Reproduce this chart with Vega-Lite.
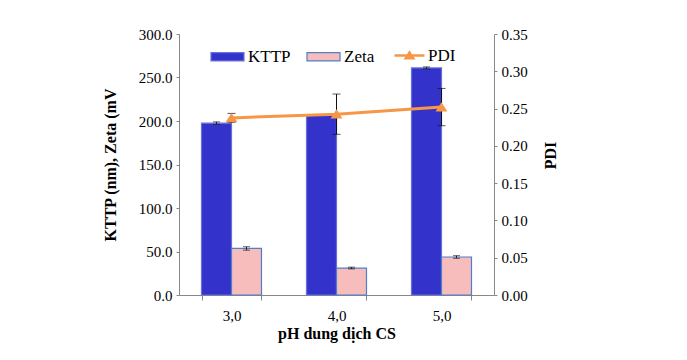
{
  "$schema": "https://vega.github.io/schema/vega-lite/v6.json",
  "width": 315,
  "height": 261,
  "autosize": {"type": "none"},
  "padding": {"left": 179, "top": 34, "right": 193, "bottom": 65},
  "background": "white",
  "config": {
    "view": {"stroke": null},
    "font": "Liberation Serif",
    "axis": {"grid": false, "domainColor": "#888888", "tickColor": "#888888", "labelFont": "Liberation Serif", "titleFont": "Liberation Serif", "labelColor": "black", "titleColor": "black", "labelFontSize": 15, "titleFontSize": 16, "titleFontWeight": "bold", "labelFontWeight": "normal"},
    "legend": {"labelFont": "Liberation Serif", "labelFontSize": 17, "labelColor": "black"}
  },
  "datasets": {
    "bars": [
      {"pH": "3,0", "series": "KTTP", "value": 197.5, "err": 1.5},
      {"pH": "3,0", "series": "Zeta", "value": 53.5, "err": 2.0},
      {"pH": "4,0", "series": "KTTP", "value": 207.0, "err": 0},
      {"pH": "4,0", "series": "Zeta", "value": 31.0, "err": 1.0},
      {"pH": "5,0", "series": "KTTP", "value": 261.0, "err": 1.2},
      {"pH": "5,0", "series": "Zeta", "value": 43.7, "err": 1.5}
    ],
    "pdi": [
      {"pH": "3,0", "series": "PDI", "pdi": 0.2375, "err": 0.006},
      {"pH": "4,0", "series": "PDI", "pdi": 0.2425, "err": 0.027},
      {"pH": "5,0", "series": "PDI", "pdi": 0.252, "err": 0.025}
    ]
  },
  "encoding": {
    "x": {
      "field": "pH", "type": "nominal", "sort": ["3,0", "4,0", "5,0"],
      "scale": {"paddingInner": 0.4286, "paddingOuter": 0.2143},
      "axis": {"title": "pH dung dịch CS", "labelAngle": 0, "tickBand": "extent", "tickSize": 5, "labelPadding": 8, "titlePadding": 2, "labelFont": "Liberation Serif", "titleFont": "Liberation Serif", "labelFontSize": 15}
    }
  },
  "layer": [
    {
      "data": {"name": "bars"},
      "transform": [{"calculate": "datum.value - datum.err", "as": "lo"}, {"calculate": "datum.value + datum.err", "as": "hi"}],
      "layer": [
        {
          "mark": {"type": "bar", "strokeWidth": 1.2},
          "encoding": {
            "xOffset": {"field": "series", "type": "nominal", "scale": {"paddingInner": 0, "paddingOuter": 0}},
            "y": {"field": "value", "type": "quantitative", "scale": {"domain": [0, 300]},
              "axis": {"title": "KTTP (nm), Zeta (mV", "values": [0, 50, 100, 150, 200, 250, 300], "format": ".1f", "tickSize": 3, "labelPadding": 4, "titlePadding": 20, "labelFont": "Liberation Serif", "titleFont": "Liberation Serif", "labelFontSize": 15, "labelOverlap": false}},
            "fill": {"field": "series", "type": "nominal", "scale": {"domain": ["KTTP", "Zeta"], "range": ["#3333cc", "#f7bcbc"]},
              "legend": {"title": null, "orient": "none", "direction": "horizontal", "legendX": 31, "legendY": 5, "symbolType": "M-1,-0.25H1V0.25H-1Z", "symbolSize": 1089, "symbolStrokeWidth": 1.2, "labelOffset": 3, "columnPadding": 13, "symbolOpacity": 1, "labelFont": "Liberation Serif", "labelFontSize": 17}},
            "stroke": {"field": "series", "type": "nominal", "scale": {"domain": ["KTTP", "Zeta"], "range": ["#6870d8", "#4f7fc8"]}, "legend": {"title": null, "orient": "none", "direction": "horizontal", "legendX": 31, "legendY": 5, "symbolType": "M-1,-0.25H1V0.25H-1Z", "symbolSize": 1089, "labelOffset": 3, "columnPadding": 13, "labelFont": "Liberation Serif", "labelFontSize": 17}}
          }
        },
        {
          "mark": {"type": "rule", "color": "#222222", "strokeWidth": 1},
          "encoding": {
            "xOffset": {"field": "series", "type": "nominal"},
            "y": {"field": "lo", "type": "quantitative", "scale": {"domain": [0, 300]},
              "axis": {"title": "KTTP (nm), Zeta (mV", "values": [0, 50, 100, 150, 200, 250, 300], "format": ".1f", "tickSize": 3, "labelPadding": 4, "titlePadding": 20, "labelFont": "Liberation Serif", "titleFont": "Liberation Serif", "labelFontSize": 15, "labelOverlap": false}},
            "y2": {"field": "hi"}
          }
        },
        {
          "mark": {"type": "tick", "color": "#222222", "thickness": 1, "size": 7, "orient": "horizontal"},
          "encoding": {
            "xOffset": {"field": "series", "type": "nominal"},
            "y": {"field": "hi", "type": "quantitative", "scale": {"domain": [0, 300]},
              "axis": {"title": "KTTP (nm), Zeta (mV", "values": [0, 50, 100, 150, 200, 250, 300], "format": ".1f", "tickSize": 3, "labelPadding": 4, "titlePadding": 20, "labelFont": "Liberation Serif", "titleFont": "Liberation Serif", "labelFontSize": 15, "labelOverlap": false}}
          }
        },
        {
          "mark": {"type": "tick", "color": "#222222", "thickness": 1, "size": 7, "orient": "horizontal"},
          "encoding": {
            "xOffset": {"field": "series", "type": "nominal"},
            "y": {"field": "lo", "type": "quantitative", "scale": {"domain": [0, 300]},
              "axis": {"title": "KTTP (nm), Zeta (mV", "values": [0, 50, 100, 150, 200, 250, 300], "format": ".1f", "tickSize": 3, "labelPadding": 4, "titlePadding": 20, "labelFont": "Liberation Serif", "titleFont": "Liberation Serif", "labelFontSize": 15, "labelOverlap": false}}
          }
        }
      ]
    },
    {
      "data": {"name": "pdi"},
      "transform": [{"calculate": "datum.pdi - datum.err", "as": "lo"}, {"calculate": "datum.pdi + datum.err", "as": "hi"}],
      "layer": [
        {
          "mark": {"type": "rule", "color": "#111111", "strokeWidth": 1},
          "encoding": {
            "y": {"field": "lo", "type": "quantitative", "scale": {"domain": [0, 0.35]},
              "axis": {"orient": "right", "title": "PDI", "values": [0, 0.05, 0.1, 0.15, 0.2, 0.25, 0.3, 0.35], "format": ".2f", "tickSize": 3, "labelPadding": 4, "labelOverlap": false, "titleAngle": -90, "titleX": 56, "titleY": 121, "titleAlign": "center", "titleBaseline": "middle", "labelFont": "Liberation Serif", "titleFont": "Liberation Serif", "labelFontSize": 15}},
            "y2": {"field": "hi"}
          }
        },
        {
          "mark": {"type": "tick", "color": "#111111", "thickness": 1, "size": 8, "orient": "horizontal"},
          "encoding": {"y": {"field": "hi", "type": "quantitative", "scale": {"domain": [0, 0.35]},
              "axis": {"orient": "right", "title": "PDI", "values": [0, 0.05, 0.1, 0.15, 0.2, 0.25, 0.3, 0.35], "format": ".2f", "tickSize": 3, "labelPadding": 4, "labelOverlap": false, "titleAngle": -90, "titleX": 56, "titleY": 121, "titleAlign": "center", "titleBaseline": "middle", "labelFont": "Liberation Serif", "titleFont": "Liberation Serif", "labelFontSize": 15}}}
        },
        {
          "mark": {"type": "tick", "color": "#111111", "thickness": 1, "size": 8, "orient": "horizontal"},
          "encoding": {"y": {"field": "lo", "type": "quantitative", "scale": {"domain": [0, 0.35]},
              "axis": {"orient": "right", "title": "PDI", "values": [0, 0.05, 0.1, 0.15, 0.2, 0.25, 0.3, 0.35], "format": ".2f", "tickSize": 3, "labelPadding": 4, "labelOverlap": false, "titleAngle": -90, "titleX": 56, "titleY": 121, "titleAlign": "center", "titleBaseline": "middle", "labelFont": "Liberation Serif", "titleFont": "Liberation Serif", "labelFontSize": 15}}}
        },
        {
          "mark": {"type": "line", "color": "#f79646", "strokeWidth": 3},
          "encoding": {"y": {"field": "pdi", "type": "quantitative", "scale": {"domain": [0, 0.35]},
              "axis": {"orient": "right", "title": "PDI", "values": [0, 0.05, 0.1, 0.15, 0.2, 0.25, 0.3, 0.35], "format": ".2f", "tickSize": 3, "labelPadding": 4, "labelOverlap": false, "titleAngle": -90, "titleX": 56, "titleY": 121, "titleAlign": "center", "titleBaseline": "middle", "labelFont": "Liberation Serif", "titleFont": "Liberation Serif", "labelFontSize": 15}},
            "opacity": {"field": "series", "type": "nominal", "scale": {"domain": ["PDI"], "range": [1]},
              "legend": {"title": null, "orient": "none", "legendX": 214, "legendY": 5, "symbolType": "M-1,0H1M-0.25,0.18L0,-0.2L0.25,0.18Z", "symbolSize": 900, "symbolStrokeColor": "#f79646", "symbolFillColor": "#f79646", "symbolStrokeWidth": 2.5, "symbolOpacity": 1, "labelOffset": 2, "labelFont": "Liberation Serif", "labelFontSize": 17}}}
        },
        {
          "mark": {"type": "point", "filled": true, "color": "#f79646", "opacity": 1, "size": 1936, "shape": "M-1,0H1M-0.27,0.2L0,-0.22L0.27,0.2Z"},
          "encoding": {
            "y": {"field": "pdi", "type": "quantitative", "scale": {"domain": [0, 0.35]},
              "axis": {"orient": "right", "title": "PDI", "values": [0, 0.05, 0.1, 0.15, 0.2, 0.25, 0.3, 0.35], "format": ".2f", "tickSize": 3, "labelPadding": 4, "labelOverlap": false, "titleAngle": -90, "titleX": 56, "titleY": 121, "titleAlign": "center", "titleBaseline": "middle", "labelFont": "Liberation Serif", "titleFont": "Liberation Serif", "labelFontSize": 15}}
          }
        }
      ]
    }
  ],
  "resolve": {"scale": {"y": "independent"}}
}
